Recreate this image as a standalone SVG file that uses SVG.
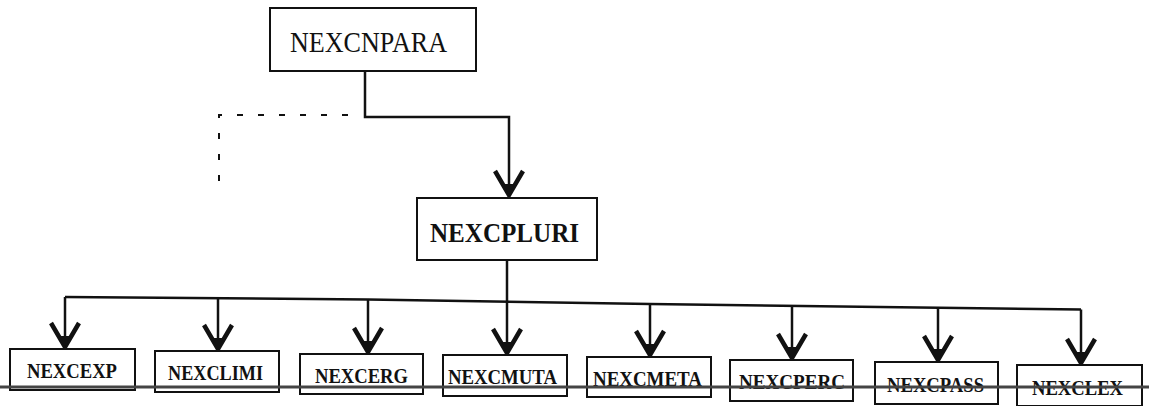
<svg xmlns="http://www.w3.org/2000/svg" width="1149" height="406" viewBox="0 0 1149 406">
<defs>
<style>
.box{fill:#fff;stroke:#111;stroke-width:2}
.lbl{font-family:"Liberation Serif","DejaVu Serif",serif;fill:#111}
.b{font-weight:bold;font-size:21px}
.c{fill:none;stroke:#111;stroke-width:2.5}
.d{fill:none;stroke:#111;stroke-width:2;stroke-dasharray:6 15}
</style>
<marker id="ah" markerUnits="userSpaceOnUse" viewBox="-32 -18 36 36" refX="0" refY="0" markerWidth="36" markerHeight="36" orient="auto">
<path d="M-25,-14 L-1,0 L-25,14" fill="none" stroke="#111" stroke-width="4.5" stroke-linejoin="miter"/>
<path d="M-12,-5 L0,0 L-12,5 z" fill="#111"/>
</marker>
</defs>
<g id="connectors">
<polyline class="c" points="365,71 365,117 509,117 509,196" marker-end="url(#ah)"/>
<polyline class="d" points="348,115 219,115 219,183"/>
<line class="c" x1="507" y1="260" x2="507" y2="302"/>
<polyline class="c" points="65,297 368,299.5 650,304 1081,309.5"/>
<line class="c" x1="65" y1="297" x2="65" y2="348" marker-end="url(#ah)"/>
<line class="c" x1="218" y1="298.5" x2="218" y2="350" marker-end="url(#ah)"/>
<line class="c" x1="368" y1="299.5" x2="368" y2="353" marker-end="url(#ah)"/>
<line class="c" x1="507" y1="302" x2="507" y2="354" marker-end="url(#ah)"/>
<line class="c" x1="650" y1="304" x2="650" y2="356" marker-end="url(#ah)"/>
<line class="c" x1="792" y1="305.5" x2="792" y2="359" marker-end="url(#ah)"/>
<line class="c" x1="938" y1="307.5" x2="938" y2="361" marker-end="url(#ah)"/>
<line class="c" x1="1081" y1="309.5" x2="1081" y2="364" marker-end="url(#ah)"/>
</g>
<g id="NEXCNPARA">
<rect class="box" x="270" y="8" width="206" height="63"/>
<text class="lbl" x="290" y="52" font-size="29" textLength="157" lengthAdjust="spacingAndGlyphs">NEXCNPARA</text>
</g>
<g id="NEXCPLURI">
<rect class="box" x="417" y="198" width="180" height="62"/>
<text class="lbl" x="430" y="242" font-size="28" font-weight="bold" textLength="149" lengthAdjust="spacingAndGlyphs">NEXCPLURI</text>
</g>
<g id="NEXCEXP">
<rect class="box" x="10" y="349" width="125" height="41"/>
<text class="lbl b" x="27" y="378" textLength="90" lengthAdjust="spacingAndGlyphs">NEXCEXP</text>
</g>
<g id="NEXCLIMI">
<rect class="box" x="155" y="351" width="124" height="41"/>
<text class="lbl b" x="168" y="380" textLength="95" lengthAdjust="spacingAndGlyphs">NEXCLIMI</text>
</g>
<g id="NEXCERG">
<rect class="box" x="300" y="354" width="123" height="40"/>
<text class="lbl b" x="315" y="383" textLength="93" lengthAdjust="spacingAndGlyphs">NEXCERG</text>
</g>
<g id="NEXCMUTA">
<rect class="box" x="443" y="355" width="124" height="41"/>
<text class="lbl b" x="448" y="384" textLength="109" lengthAdjust="spacingAndGlyphs">NEXCMUTA</text>
</g>
<g id="NEXCMETA">
<rect class="box" x="587" y="357" width="124" height="40"/>
<text class="lbl b" x="593" y="386" textLength="109" lengthAdjust="spacingAndGlyphs">NEXCMETA</text>
</g>
<g id="NEXCPERC">
<rect class="box" x="730" y="360" width="123" height="41"/>
<text class="lbl b" x="739" y="389" textLength="106" lengthAdjust="spacingAndGlyphs">NEXCPERC</text>
</g>
<g id="NEXCPASS">
<rect class="box" x="875" y="362" width="123" height="42"/>
<text class="lbl b" x="887" y="392" textLength="97" lengthAdjust="spacingAndGlyphs">NEXCPASS</text>
</g>
<g id="NEXCLEX">
<rect class="box" x="1017" y="365" width="125" height="41"/>
<text class="lbl b" x="1032" y="395" textLength="91" lengthAdjust="spacingAndGlyphs">NEXCLEX</text>
</g>
<line x1="0" y1="387" x2="1149" y2="387" stroke="#444" stroke-width="3"/>
</svg>
